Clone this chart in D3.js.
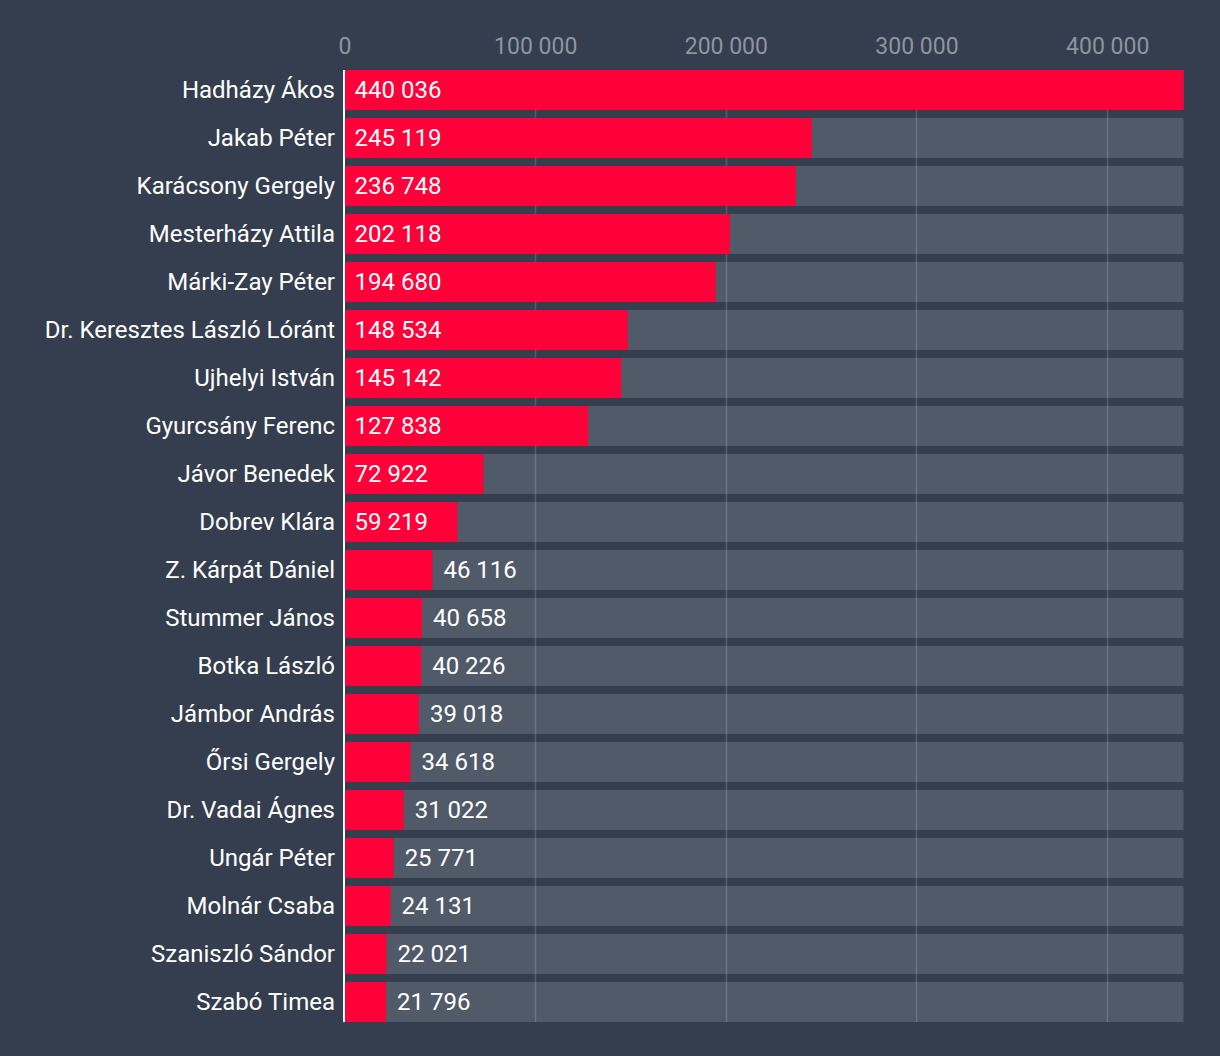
<!DOCTYPE html>
<html><head><meta charset="utf-8">
<script src="https://cdn.jsdelivr.net/npm/d3@7"></script>
<style>
html,body{margin:0;padding:0;background:#343e4e;}
svg{display:block;font-family:Roboto,"Noto Sans",sans-serif;}
</style></head>
<body>
<svg id="chart" width="1220" height="1056"></svg>
<script>
const names = ["Hadházy Ákos","Jakab Péter","Karácsony Gergely","Mesterházy Attila","Márki-Zay Péter","Dr. Keresztes László Lóránt","Ujhelyi István","Gyurcsány Ferenc","Jávor Benedek","Dobrev Klára","Z. Kárpát Dániel","Stummer János","Botka László","Jámbor András","Őrsi Gergely","Dr. Vadai Ágnes","Ungár Péter","Molnár Csaba","Szaniszló Sándor","Szabó Timea"];
const votes = [440036,245119,236748,202118,194680,148534,145142,127838,72922,59219,46116,40658,40226,39018,34618,31022,25771,24131,22021,21796];
const tickValues = [0,100000,200000,300000,400000];

const svg = d3.select("#chart");
const W = 1220, H = 1056;
svg.append("rect").attr("width",W).attr("height",H).attr("fill","#343e4e");

const maxV = d3.max(votes);
const x = d3.scaleLinear().domain([0, maxV]).range([344.5, 1183.5]);
const y = d3.scaleBand().domain(names).range([70, 1022]).paddingInner(8/48).paddingOuter(0);
const fmt = v => d3.format(",")(v).replace(/,/g, " ");

// background bars
svg.append("g").selectAll("rect").data(names).join("rect")
  .attr("x", x(0)).attr("y", d => y(d))
  .attr("width", x(maxV) - x(0)).attr("height", y.bandwidth())
  .attr("fill", "#505a69");

// gridlines
svg.append("g").selectAll("line").data(tickValues.filter(t => t > 0)).join("line")
  .attr("x1", d => Math.round(x(d)) + 0.5).attr("x2", d => Math.round(x(d)) + 0.5)
  .attr("y1", 70).attr("y2", 1022)
  .attr("stroke", "rgba(255,255,255,0.16)").attr("stroke-width", 1.5);

// red bars
svg.append("g").selectAll("rect").data(votes).join("rect")
  .attr("x", x(0)).attr("y", (d,i) => y(names[i]))
  .attr("width", d => x(d) - x(0)).attr("height", y.bandwidth())
  .attr("fill", "#ff0038");

// zero line
svg.append("line").attr("x1", 344).attr("x2", 344).attr("y1", 70).attr("y2", 1022)
  .attr("stroke", "#ffffff").attr("stroke-width", 2);

// top axis
const axis = d3.axisTop(x).tickValues(tickValues).tickFormat(fmt).tickSize(0).tickPadding(0);
const ag = svg.append("g").attr("transform", "translate(0,54)").call(axis);
ag.select(".domain").remove();
ag.selectAll("text").attr("fill", "#8d95a0").attr("font-size", 23)
  .attr("font-family", "Roboto, sans-serif").attr("dy", 0);

// category labels
svg.append("g").selectAll("text").data(names).join("text")
  .attr("x", 335).attr("y", d => y(d) + y.bandwidth()/2 + 7.5)
  .attr("text-anchor", "end")
  .attr("fill", "#ffffff").attr("font-size", 24).text(d => d);

// value labels
const vl = svg.append("g").selectAll("text").data(votes).join("text")
  .attr("y", (d,i) => y(names[i]) + y.bandwidth()/2 + 7.5)
  .attr("fill", "#ffffff").attr("font-size", 24).text(d => fmt(d));
vl.each(function(d){
  const tw = this.getComputedTextLength();
  const bw = x(d) - x(0);
  const inside = tw + 22 < bw;
  d3.select(this).attr("x", inside ? x(0) + 10 : x(d) + 11);
});
</script>
</body></html>
